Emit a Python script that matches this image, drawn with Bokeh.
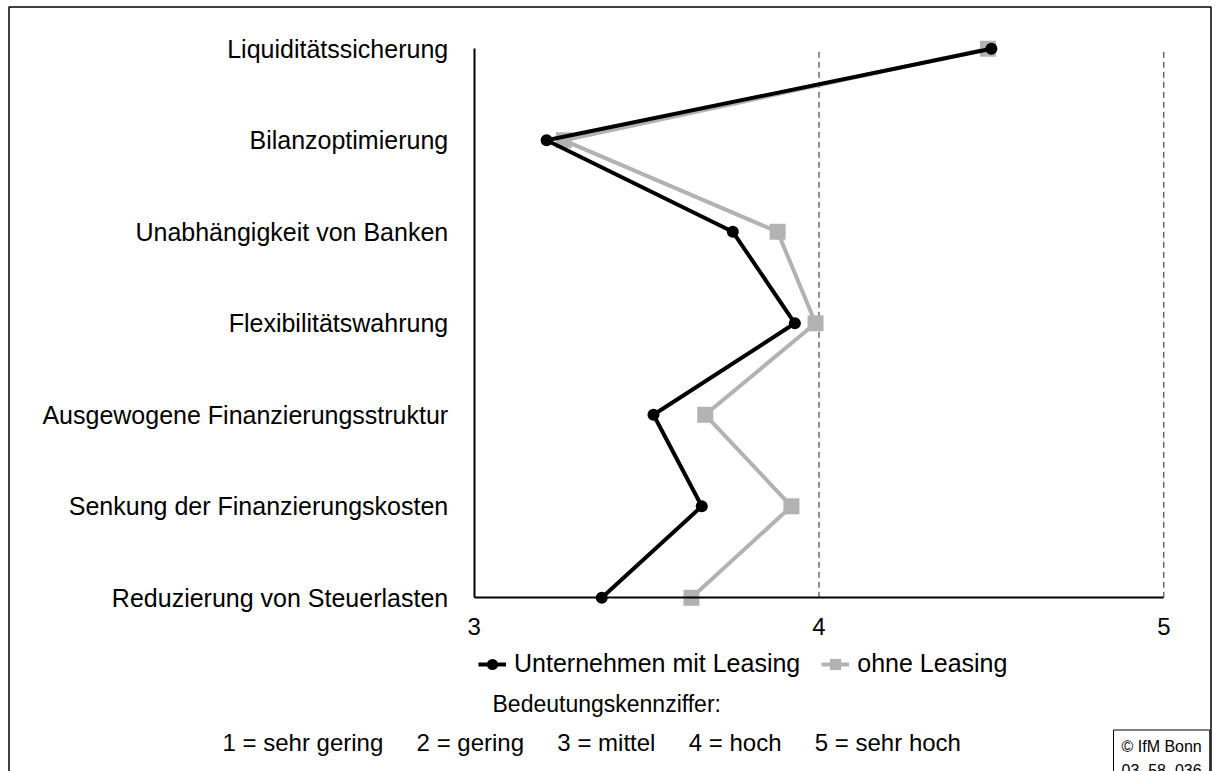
from bokeh.plotting import figure
from bokeh.models import FixedTicker, Legend, LegendItem, Label, BoxAnnotation
from bokeh.embed import file_html
from bokeh.resources import INLINE

# ---------------- data ----------------
categories = [
    "Liquiditätssicherung",
    "Bilanzoptimierung",
    "Unabhängigkeit von Banken",
    "Flexibilitätswahrung",
    "Ausgewogene Finanzierungsstruktur",
    "Senkung der Finanzierungskosten",
    "Reduzierung von Steuerlasten",
]
mit_leasing = [4.50, 3.21, 3.75, 3.93, 3.52, 3.66, 3.37]
ohne_leasing = [4.49, 3.26, 3.88, 3.99, 3.67, 3.92, 3.63]
series_names = ["Unternehmen mit Leasing", "ohne Leasing"]
x_ticks = [3, 4, 5]
grid_ticks = [4, 5]
scale_title = "Bedeutungskennziffer:"
scale_labels = ["1 = sehr gering", "2 = gering", "3 = mittel", "4 = hoch", "5 = sehr hoch"]
source_note = "© IfM Bonn\n03_58_036"

# ---------------- layout ----------------
FONT = "Liberation Sans"
W, H = 1218, 771
n = len(categories)
ypos = [n - 1 - i for i in range(n)]
XMIN, XMAX = x_ticks[0], x_ticks[-1]
# pixel anchors of the value axis ends and category ends
PX_XMIN, PX_XMAX = 473.7, 1163.3
PY_BOTTOM, PY_TOP = 597.3, 48.3
ppx = (PX_XMAX - PX_XMIN) / (XMAX - XMIN)
ppy = (PY_BOTTOM - PY_TOP) / (n - 1)
x_range = (XMIN - PX_XMIN / ppx, XMIN + (W - PX_XMIN) / ppx)
y_range = (-(H - PY_BOTTOM) / ppy, PY_BOTTOM / ppy)

def dx(px):
    return XMIN + (px - PX_XMIN) / ppx

def dy(py):
    return (PY_BOTTOM - py) / ppy

p = figure(width=W, height=H, x_range=x_range, y_range=y_range,
           output_backend="svg", toolbar_location=None,
           min_border_left=0, min_border_right=0, min_border_top=0, min_border_bottom=0)
p.outline_line_color = None
p.grid.visible = False
p.background_fill_color = "white"
p.border_fill_color = "white"

# axes (fixed inside the frame)
p.xaxis.ticker = FixedTicker(ticks=x_ticks)
p.xaxis.fixed_location = 0
p.xaxis.bounds = (XMIN, XMAX)
p.yaxis.ticker = FixedTicker(ticks=ypos)
p.yaxis.major_label_overrides = {y: c for y, c in zip(ypos, categories)}
p.yaxis.fixed_location = XMIN
p.yaxis.bounds = (0, n - 1)
for ax in (p.xaxis[0], p.yaxis[0]):
    ax.axis_line_color = "black"
    ax.axis_line_width = 2
    ax.major_tick_line_color = None
    ax.minor_tick_line_color = None
    ax.major_tick_out = 0
    ax.major_tick_in = 0
    ax.major_label_text_font = FONT
    ax.major_label_text_color = "black"
p.xaxis.major_label_text_font_size = "24px"
p.xaxis.major_label_standoff = 20
p.yaxis.major_label_text_font_size = "25px"
p.yaxis.major_label_standoff = 26

# dashed reference lines
p.segment(x0=grid_ticks, y0=[0] * len(grid_ticks), x1=grid_ticks, y1=[n - 1] * len(grid_ticks),
          line_color="#222222", line_width=1, line_dash="6 4")

# series
GRAY = "#B2B2B2"
l2 = p.line(ohne_leasing, ypos, line_color=GRAY, line_width=4)
s2 = p.scatter(ohne_leasing, ypos, marker="square", size=16, fill_color=GRAY, line_color=None)
l1 = p.line(mit_leasing, ypos, line_color="black", line_width=4)
s1 = p.scatter(mit_leasing, ypos, marker="circle", size=12, fill_color="black", line_color=None)

legend = Legend(items=[LegendItem(label=series_names[0], renderers=[l1, s1]),
                       LegendItem(label=series_names[1], renderers=[l2, s2])],
                orientation="horizontal", location=(478, 93),
                border_line_color=None, background_fill_alpha=0,
                padding=0, margin=0, spacing=21, glyph_width=28, glyph_height=28,
                label_standoff=8, label_height=28,
                label_text_font=FONT, label_text_font_size="25px", label_text_color="black")
p.add_layout(legend)

p.add_layout(Label(x=dx(492), y=dy(703), text=scale_title, text_font=FONT, text_color="black",
                   text_font_size="23px", text_baseline="middle", text_align="left"))
p.add_layout(Label(x=dx(222), y=dy(742), text=("\u00a0" * 5).join(scale_labels),
                   text_font=FONT, text_color="black",
                   text_font_size="24px", text_baseline="middle", text_align="left"))
p.add_layout(Label(x=dx(1113), y=dy(729.5), text=source_note, text_font=FONT, text_color="black",
                   text_font_size="16px", text_baseline="top", text_align="left",
                   text_line_height=1.4,
                   border_line_color="black", border_line_width=1, border_line_alpha=1,
                   padding=8))

# outer frame of the chart
p.add_layout(BoxAnnotation(left=dx(8.5), right=dx(1210.5), top=dy(6.5), bottom=dy(H + 20),
                           fill_color=None, fill_alpha=0, line_color="black", line_alpha=1,
                           line_width=1.5))

open("out.html", "w").write(file_html(p, INLINE))
